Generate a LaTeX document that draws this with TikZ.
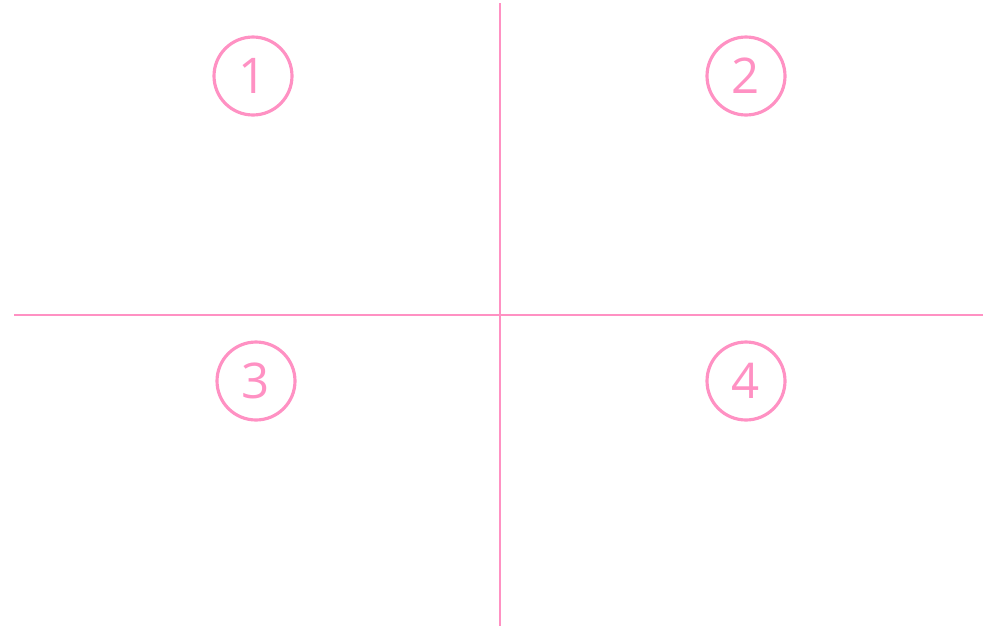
\documentclass[tikz,border=0pt]{standalone}
\usepackage{fontspec}
\setmainfont{Open Sans}
\usepackage{xcolor}
\usetikzlibrary{positioning}
\definecolor{quadpink}{RGB}{255,145,195}

\begin{document}
\begin{tikzpicture}[
    x=0.02cm, y=-0.02cm,
    numcircle/.style={draw=quadpink, circle, line width=1.8pt, minimum size=1.56cm, inner sep=0pt,
        text=quadpink, font=\fontsize{28}{28}\selectfont},
    divider/.style={draw=quadpink, line width=1.1pt},
]
\useasboundingbox (0,0) rectangle (983,629);

% dividing lines
\coordinate (top) at (500,3);
\coordinate (bottom) at (500,626);
\coordinate (left) at (14,315);
\coordinate (right) at (983,315);
\draw[divider] (top) -- (bottom);
\draw[divider] (left) -- (right);

% quadrant numbers
\node[numcircle] (q1) at (253,76) {1};
\node[numcircle] (q2) at (746,76) {2};
\node[numcircle] (q3) at (256,381) {3};
\node[numcircle] (q4) at (746,381) {4};
\end{tikzpicture}
\end{document}
